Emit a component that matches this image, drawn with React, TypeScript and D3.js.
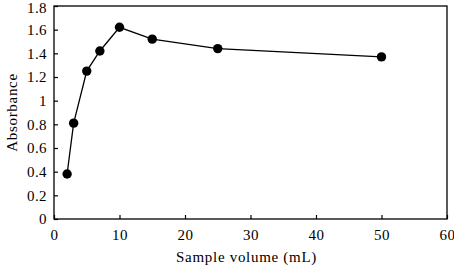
import React, { useEffect, useRef } from 'react';
import * as d3 from 'd3';

const volumes = [2, 3, 5, 7, 10, 15, 25, 50];
const absorbance = [0.38, 0.81, 1.25, 1.42, 1.62, 1.52, 1.44, 1.37];
const xTicks = [0, 10, 20, 30, 40, 50, 60];
const yTicks = [0, 0.2, 0.4, 0.6, 0.8, 1, 1.2, 1.4, 1.6, 1.8];

const App = () => {
  const svgRef = useRef<SVGSVGElement>(null);

  useEffect(() => {
    const width = 454;
    const height = 268;
    const margin = { top: 6, right: 7, bottom: 49, left: 54 };
    const w = width - margin.left - margin.right;
    const h = height - margin.top - margin.bottom;
    const font = '"Liberation Serif", "DejaVu Serif", serif';

    const root = d3.select(svgRef.current);
    root.selectAll('*').remove();
    root.attr('width', width).attr('height', height);

    const svg = root.append('g')
      .attr('transform', `translate(${margin.left},${margin.top})`);

    const x = d3.scaleLinear().domain([0, 60]).range([0, w]);
    const y = d3.scaleLinear().domain([0, 1.8]).range([h, 0]);

    // frame
    svg.append('rect')
      .attr('width', w)
      .attr('height', h)
      .attr('fill', 'none')
      .attr('stroke', '#000')
      .attr('stroke-width', 1.3);

    // x axis (ticks inward)
    const xAxis = svg.append('g')
      .attr('transform', `translate(0,${h})`)
      .call(d3.axisBottom(x).tickValues(xTicks).tickSizeInner(-4).tickSizeOuter(0).tickPadding(10).tickFormat(d3.format('d')));
    xAxis.select('.domain').remove();
    xAxis.selectAll('text')
      .style('font-family', font).style('font-size', '15px').style('letter-spacing', '0.4px')
      .attr('fill', '#000');
    xAxis.selectAll('line').attr('stroke-width', 1.2);

    // y axis
    const yAxis = svg.append('g')
      .call(d3.axisLeft(y).tickValues(yTicks).tickSizeInner(-4).tickSizeOuter(0).tickPadding(7).tickFormat(d => String(+(+d).toFixed(1))));
    yAxis.select('.domain').remove();
    yAxis.selectAll<SVGTextElement, number>('text')
      .style('font-family', font).style('font-size', '15px').style('letter-spacing', '0.4px')
      .attr('fill', '#000')
      .attr('dy', d => (d === 1.8 ? '0.45em' : '0.32em')); // top label sits a bit lower, as in the original
    yAxis.selectAll('line').attr('stroke-width', 1.2);

    const pts = volumes.map((v, i) => [v, absorbance[i]] as [number, number]);

    svg.append('path')
      .datum(pts)
      .attr('fill', 'none')
      .attr('stroke', '#000')
      .attr('stroke-width', 1.3)
      .attr('d', d3.line<[number, number]>().x(d => x(d[0])).y(d => y(d[1])));

    svg.selectAll('circle')
      .data(pts)
      .enter().append('circle')
      .attr('cx', d => x(d[0]))
      .attr('cy', d => y(d[1]))
      .attr('r', 4.7)
      .attr('fill', '#000');

    // labels
    svg.append('text')
      .attr('x', w / 2 - 4)
      .attr('y', h + 43)
      .attr('text-anchor', 'middle')
      .style('font-family', font)
      .style('font-size', '15px')
      .style('letter-spacing', '0.7px')
      .text('Sample volume (mL)');

    svg.append('text')
      .attr('transform', 'rotate(-90)')
      .attr('x', -(h / 2))
      .attr('y', -37)
      .attr('text-anchor', 'middle')
      .style('font-family', font)
      .style('font-size', '15px')
      .style('letter-spacing', '0.7px')
      .text('Absorbance');
  }, []);

  return <svg ref={svgRef} style={{ position: 'absolute', left: 0, top: 0 }}></svg>;
};

export default App;
